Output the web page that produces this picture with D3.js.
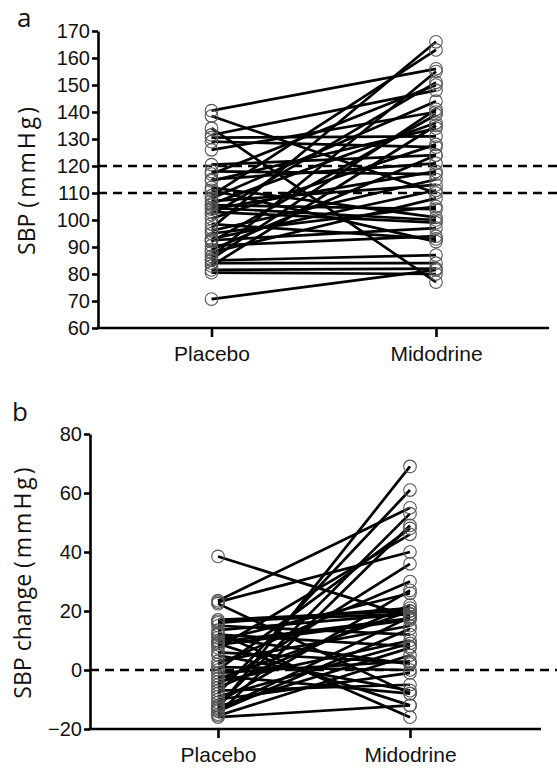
<!DOCTYPE html>
<html>
<head>
<meta charset="utf-8" />
<title>SBP placebo vs midodrine</title>
<style>
body { margin: 0; background: #fff; }
svg { display: block; font-family: "Open Sans", "Noto Sans", sans-serif; }
.axis path, .axis line { stroke: #000; stroke-width: 2.6px; }
.axis text { fill: #111; }
</style>
</head>
<body>
<script src="https://d3js.org/d3.v7.min.js"></script>
<script>
var width = 557,
    height = 773;

// categories
var groups = ["Placebo", "Midodrine"];

// panel a : SBP (mmHg), one entry per subject
var sbpPlacebo   = [140.5, 138.5, 134, 131.5, 130.5, 129, 126, 120.5, 118, 117, 115, 114.5, 109, 108, 107, 106, 105.5, 104.5, 104, 103, 102, 100.5, 98.5, 97, 93, 92.5, 92, 90.5, 89, 88, 86.5, 85, 84, 83, 81.5, 80.5, 70.7, 112, 96, 111, 85.5, 95];
var sbpMidodrine = [156, 110, 77, 148, 131, 127, 140, 124, 117, 150, 121, 134, 163, 144, 113, 136, 104, 100, 118, 99, 151, 128, 93, 166, 111, 97, 139, 94, 124, 108, 155, 87, 84, 135, 82, 80, 81.5, 101, 115, 92, 141, 105];
var sbpTicks = [60, 70, 80, 90, 100, 110, 120, 130, 140, 150, 160, 170];
var sbpRefLines = [110, 120];

// panel b : SBP change (mmHg)
var chgPlacebo   = [38.5, 23.5, 22.5, 23, 17, 16, 15, 13.5, 12, 11, 10, 9, 8.5, 7.5, 5, 3, 2, 1, 0, -1, -2, -4, -5, -6, -8, -9, -10, -11, -12, -13, -13.5, -14, -15, -15.5, -16, 12.5, 16.5, -3, 6, 9.5, -7, -12.5];
var chgMidodrine = [18, 55, -8, 40, 20, 21, 12, 19, 8, 2, 26, -12, 17, 46, -7, 15, 30, 0, 48, 3, -8, 10, 36, 22, 61, 9, -1, 27, 53, 69, 18, 14, 49, 5, -12, -16, 19, 20, 2.5, 17.5, -5, 7.5];
var chgTicks = [-20, 0, 20, 40, 60, 80];
var chgRefLines = [0];

var svg = d3.select("body").append("svg")
    .attr("width", width)
    .attr("height", height);

function drawPanel(cfg) {
  var g = svg.append("g");

  var y = d3.scaleLinear().domain(cfg.domain).range(cfg.yRange);
  var x = d3.scalePoint().domain(groups).range(cfg.xPts);

  // reference lines
  g.selectAll(".ref")
    .data(cfg.refs)
    .enter().append("line")
    .attr("x1", cfg.x0).attr("x2", width)
    .attr("y1", d => y(d)).attr("y2", d => y(d))
    .style("stroke", "#000")
    .style("stroke-width", "2.6px")
    .style("stroke-dasharray", "9,6");

  // subject lines
  var pairs = cfg.a.map((v, i) => [v, cfg.b[i]]);
  g.selectAll(".subj")
    .data(pairs)
    .enter().append("line")
    .attr("x1", x(groups[0])).attr("x2", x(groups[1]))
    .attr("y1", d => y(d[0])).attr("y2", d => y(d[1]))
    .style("stroke", "#000")
    .style("stroke-width", "2.7px");

  // open circles
  [cfg.a, cfg.b].forEach(function(vals, k) {
    g.selectAll(".pt" + k)
      .data(vals)
      .enter().append("circle")
      .attr("cx", x(groups[k]))
      .attr("cy", d => y(d))
      .attr("r", 6.3)
      .style("fill", "none")
      .style("stroke", "#555")
      .style("stroke-width", "1.1px");
  });

  // y axis
  g.append("g")
    .attr("class", "axis")
    .attr("transform", "translate(" + cfg.x0 + ",0)")
    .call(d3.axisLeft(y).tickValues(cfg.ticks).tickSize(6).tickSizeOuter(0).tickPadding(2).tickFormat(d3.format("d")))
    .call(a => a.selectAll("text").style("font-size", "20px"));

  // x axis
  var yb = cfg.yRange[0];
  g.append("line")
    .attr("x1", cfg.x0 - 1.3).attr("x2", cfg.x1)
    .attr("y1", yb).attr("y2", yb)
    .style("stroke", "#000")
    .style("stroke-width", "2.6px");
  g.append("g")
    .attr("class", "axis")
    .attr("transform", "translate(0," + yb + ")")
    .call(d3.axisBottom(x).tickSize(9).tickPadding(9))
    .call(a => a.select(".domain").remove())
    .call(a => a.selectAll("text").style("font-size", "21px"));

  // y title
  var t = g.append("text")
    .attr("transform", "translate(" + cfg.titleX + "," + (cfg.yRange[0] + cfg.yRange[1]) / 2 + ") rotate(-90)")
    .attr("text-anchor", "middle")
    .attr("dy", "0.35em")
    .style("font-size", "23px")
    .style("fill", "#111");
  t.append("tspan").text(cfg.title);
  t.append("tspan").style("letter-spacing", "3px").text("(mmHg)");

  // panel letter
  g.append("text")
    .attr("x", cfg.letterX).attr("y", cfg.letterY)
    .style("font-size", "26px")
    .style("fill", "#111")
    .text(cfg.letter);
}

drawPanel({
  a: sbpPlacebo, b: sbpMidodrine,
  domain: [60, 170], yRange: [328, 31],
  ticks: sbpTicks, refs: sbpRefLines,
  x0: 98, x1: 549, xPts: [211.5, 436],
  title: "SBP ", titleX: 27,
  letter: "a", letterX: 17, letterY: 27
});

drawPanel({
  a: chgPlacebo, b: chgMidodrine,
  domain: [-20, 80], yRange: [729, 434],
  ticks: chgTicks, refs: chgRefLines,
  x0: 90, x1: 541, xPts: [218, 410],
  title: "SBP change ", titleX: 23,
  letter: "b", letterX: 12, letterY: 421
});
</script>
</body>
</html>
